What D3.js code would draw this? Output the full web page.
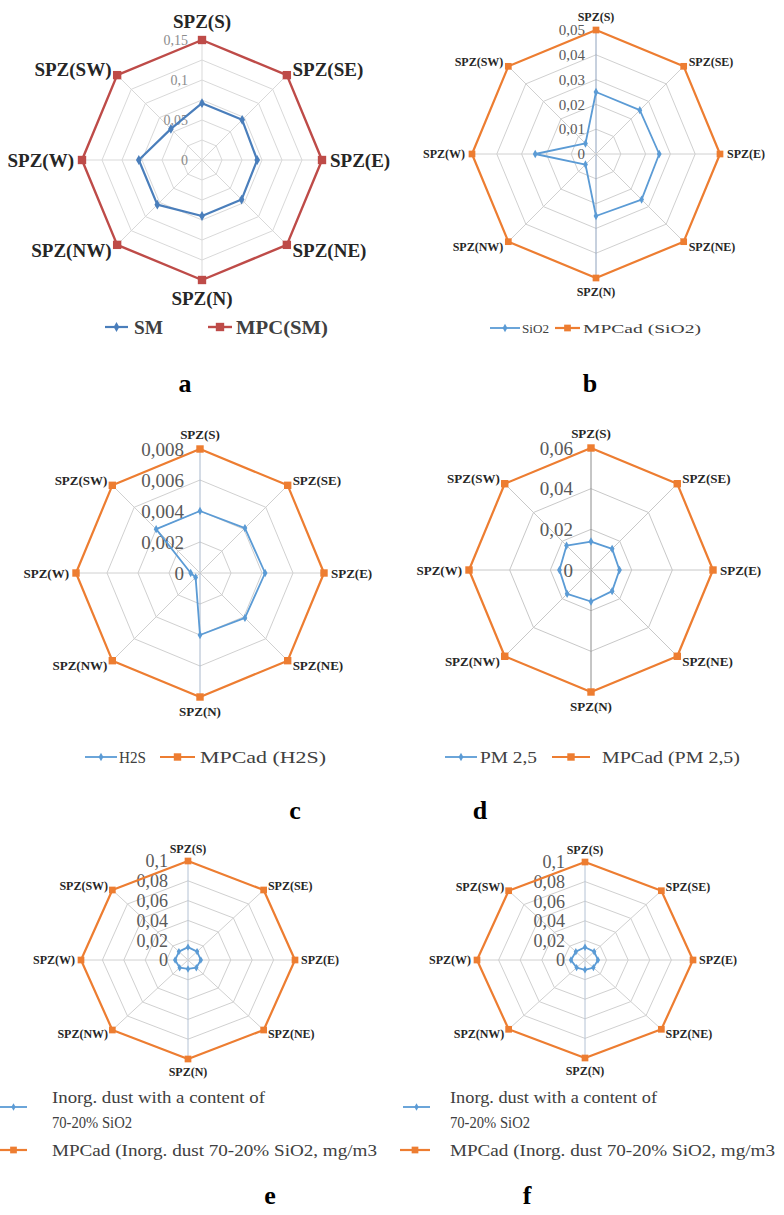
<!DOCTYPE html>
<html>
<head>
<meta charset="utf-8">
<script src="https://cdn.jsdelivr.net/npm/d3@7"></script>
<style>
body { margin: 0; background: #fff; }
text { font-family: "Liberation Serif", "Times New Roman", Tinos, serif; }
</style>
</head>
<body>
<svg id="chart" width="784" height="1215"></svg>
<script>
// sampling zones, clockwise from the top
var categories = ["SPZ(S)", "SPZ(SE)", "SPZ(E)", "SPZ(NE)", "SPZ(N)", "SPZ(NW)", "SPZ(W)", "SPZ(SW)"]

// a - SM
var smValues   = [0.071, 0.071, 0.069, 0.070, 0.070, 0.079, 0.079, 0.055]
var mpcSm      = [0.15, 0.15, 0.15, 0.15, 0.15, 0.15, 0.15, 0.15]
var ticksA     = [0, 0.05, 0.1, 0.15]

// b - SiO2
var sio2Values = [0.025, 0.025, 0.0255, 0.026, 0.025, 0.006, 0.0245, 0.006]
var mpcSio2    = [0.05, 0.05, 0.05, 0.05, 0.05, 0.05, 0.05, 0.05]
var ticksB     = [0, 0.01, 0.02, 0.03, 0.04, 0.05]

// c - H2S
var h2sValues  = [0.004, 0.0041, 0.0042, 0.0041, 0.004, 0.0004, 0.0006, 0.004]
var mpcH2s     = [0.008, 0.008, 0.008, 0.008, 0.008, 0.008, 0.008, 0.008]
var ticksC     = [0, 0.002, 0.004, 0.006, 0.008]

// d - PM 2,5
var pmValues   = [0.014, 0.0147, 0.014, 0.0147, 0.0155, 0.0166, 0.0155, 0.017]
var mpcPm      = [0.06, 0.06, 0.06, 0.06, 0.06, 0.06, 0.06, 0.06]
var ticksD     = [0, 0.02, 0.04, 0.06]

// e, f - inorganic dust 70-20% SiO2
var dustE      = [0.013, 0.012, 0.012, 0.011, 0.009, 0.011, 0.012, 0.012]
var dustF      = [0.013, 0.012, 0.012, 0.011, 0.010, 0.011, 0.013, 0.012]
var mpcDust    = [0.1, 0.1, 0.1, 0.1, 0.1, 0.1, 0.1, 0.1]
var ticksEF    = [0, 0.02, 0.04, 0.06, 0.08, 0.1]

var BLUE = "#5b9bd5", ORANGE = "#ed7d31"

var fmt = d3.formatLocale({decimal: ",", thousands: " ", grouping: [3], currency: ["", ""]}).format(".3~f")

var panels = [
	{letter: "a", lx: 185, ly: 383, cx: 202, cy: 160, rx: 120, ry: 120, max: 0.15, step: 0.025, ticks: ticksA,
		tickSize: 14, tickColor: "#8c8c8c", tickDx: 14, labelSize: 19, labelPad: 8, grid: "#d9d9d9", vaxis: "#d9d9d9",
		series: [
			{name: "SM", values: smValues, color: "#4a7ebb", width: 2.2, sym: d3.symbolDiamond, size: 28},
			{name: "MPC(SM)", values: mpcSm, color: "#be4b48", width: 2.4, sym: d3.symbolSquare, size: 70}
		],
		legend: {size: 19, bold: true, items: [
			{x1: 105, x2: 128, y: 327, lines: ["SM"], tx: 134, tl: [29]},
			{x1: 208, x2: 232, y: 327, lines: ["MPC(SM)"], tx: 236, tl: [92]}
		]}},
	{letter: "b", lx: 590, ly: 383, cx: 596, cy: 154, rx: 124, ry: 124, max: 0.05, step: 0.01, ticks: ticksB,
		tickSize: 15, tickColor: "#595959", tickDx: 11, labelSize: 12, labelPad: 7, grid: "#d0d0d0", vaxis: "#8fa2bd",
		series: [
			{name: "SiO2", values: sio2Values, color: BLUE, width: 1.8, sym: d3.symbolDiamond, size: 20},
			{name: "MPCad (SiO2)", values: mpcSio2, color: ORANGE, width: 2.2, sym: d3.symbolSquare, size: 45}
		],
		legend: {size: 13, items: [
			{x1: 490, x2: 520, y: 328, lines: ["SiO2"], tx: 522, tl: [27]},
			{x1: 555, x2: 580, y: 328, lines: ["MPCad (SiO2)"], tx: 583, tl: [118]}
		]}},
	{letter: "c", lx: 295, ly: 810, cx: 200, cy: 573, rx: 124, ry: 124, max: 0.008, step: 0.002, ticks: ticksC,
		tickSize: 19, tickColor: "#595959", tickDx: 16, labelSize: 13, labelPad: 7, grid: "#d0d0d0", vaxis: "#a9b8cc",
		series: [
			{name: "H2S", values: h2sValues, color: BLUE, width: 1.8, sym: d3.symbolDiamond, size: 20},
			{name: "MPCad (H2S)", values: mpcH2s, color: ORANGE, width: 2.2, sym: d3.symbolSquare, size: 55}
		],
		legend: {size: 16, items: [
			{x1: 85, x2: 117, y: 757, lines: ["H2S"], tx: 119, tl: [27]},
			{x1: 160, x2: 195, y: 757, lines: ["MPCad (H2S)"], tx: 200, tl: [126]}
		]}},
	{letter: "d", lx: 480, ly: 810, cx: 591, cy: 570, rx: 122, ry: 122, max: 0.06, step: 0.02, ticks: ticksD,
		tickSize: 19, tickColor: "#595959", tickDx: 18, labelSize: 13, labelPad: 7, grid: "#c8c8c8", vaxis: "#8c8c8c",
		series: [
			{name: "PM 2,5", values: pmValues, color: BLUE, width: 1.8, sym: d3.symbolDiamond, size: 20},
			{name: "MPCad (PM 2,5)", values: mpcPm, color: ORANGE, width: 2.2, sym: d3.symbolSquare, size: 55}
		],
		legend: {size: 16, items: [
			{x1: 445, x2: 477, y: 757, lines: ["PM 2,5"], tx: 480, tl: [57]},
			{x1: 552, x2: 590, y: 757, lines: ["MPCad (PM 2,5)"], tx: 602, tl: [138]}
		]}},
	{letter: "e", lx: 270, ly: 1195, cx: 188, cy: 960, rx: 107, ry: 99, max: 0.1, step: 0.02, ticks: ticksEF,
		tickSize: 18, tickColor: "#595959", tickDx: 20, labelSize: 12, labelPad: 6, grid: "#d0d0d0", vaxis: "#b4c2d4",
		series: [
			{name: "dust", values: dustE, color: BLUE, width: 1.8, sym: d3.symbolDiamond, size: 16},
			{name: "mpc", values: mpcDust, color: ORANGE, width: 2.2, sym: d3.symbolSquare, size: 45}
		],
		legend: {size: 16, items: [
			{x1: 0, x2: 27, y: 1107, lines: ["Inorg. dust with a content of", "70-20% SiO2"], tx: 52, ty: 1097, tl: [213, 80]},
			{x1: 0, x2: 27, y: 1150, lines: ["MPCad (Inorg. dust 70-20% SiO2, mg/m3"], tx: 52, tl: [325]}
		]}},
	{letter: "f", lx: 527, ly: 1195, cx: 585, cy: 960, rx: 108, ry: 98, max: 0.1, step: 0.02, ticks: ticksEF,
		tickSize: 18, tickColor: "#595959", tickDx: 20, labelSize: 12, labelPad: 6, grid: "#d0d0d0", vaxis: "#b4c2d4",
		series: [
			{name: "dust", values: dustF, color: BLUE, width: 1.8, sym: d3.symbolDiamond, size: 16},
			{name: "mpc", values: mpcDust, color: ORANGE, width: 2.2, sym: d3.symbolSquare, size: 45}
		],
		legend: {size: 16, items: [
			{x1: 403, x2: 430, y: 1107, lines: ["Inorg. dust with a content of", "70-20% SiO2"], tx: 450, ty: 1097, tl: [207, 80]},
			{x1: 400, x2: 430, y: 1150, lines: ["MPCad (Inorg. dust 70-20% SiO2, mg/m3"], tx: 450, tl: [325]}
		]}}
]

var svg = d3.select("#chart")

panels.forEach(function(p){ drawRadar(svg.append("g").attr("class", "panel-" + p.letter), p) })

function drawRadar(g, p){
	var n = categories.length
	var rX = d3.scaleLinear().domain([0, p.max]).range([0, p.rx])
	var rY = d3.scaleLinear().domain([0, p.max]).range([0, p.ry])
	var angle = d3.scaleLinear().domain([0, n]).range([0, 2 * Math.PI])

	function pt(i, v){
		var a = angle(i)
		return [p.cx + rX(v) * Math.sin(a), p.cy - rY(v) * Math.cos(a)]
	}
	var ring = d3.line().curve(d3.curveLinearClosed)

	// grid rings
	var rings = d3.range(p.step, p.max + p.step / 2, p.step)
	g.selectAll(".ring").data(rings).join("path")
		.attr("class", "ring")
		.attr("d", r => ring(categories.map((c, i) => pt(i, r))))
		.attr("fill", "none").attr("stroke", p.grid).attr("stroke-width", 1)

	// spokes
	g.selectAll(".spoke").data(categories).join("line")
		.attr("class", "spoke")
		.attr("x1", p.cx).attr("y1", p.cy)
		.attr("x2", (c, i) => pt(i, p.max)[0]).attr("y2", (c, i) => pt(i, p.max)[1])
		.attr("stroke", (c, i) => (i % 4 == 0) ? p.vaxis : p.grid).attr("stroke-width", 1)

	// value labels
	g.selectAll(".tick").data(p.ticks).join("text")
		.attr("class", "tick")
		.attr("x", p.cx - p.tickDx).attr("y", t => p.cy - rY(t))
		.attr("dy", "0.35em").attr("text-anchor", "end")
		.attr("font-size", p.tickSize).attr("fill", p.tickColor)
		.text(fmt)

	// category labels
	g.selectAll(".cat").data(categories).join("text")
		.attr("class", "cat")
		.each(function(c, i){
			var a = angle(i), s = Math.sin(a), co = Math.cos(a)
			var o = pt(i, p.max)
			var x = o[0] + s * p.labelPad, y = o[1] - co * p.labelPad
			var anchor = "middle"
			if (s > 0.1) anchor = "start"
			if (s < -0.1) anchor = "end"
			if (Math.abs(s) < 0.1) y += (co > 0 ? -1 : 1) * p.labelSize * 0.55
			d3.select(this).attr("x", x).attr("y", y).attr("dy", "0.35em")
				.attr("text-anchor", anchor)
		})
		.attr("font-size", p.labelSize).attr("font-weight", "bold").attr("fill", "#262626")
		.text(c => c)

	// series
	p.series.slice().reverse().forEach(function(s){
		var pts = s.values.map((v, i) => pt(i, v))
		g.append("path").attr("d", ring(pts))
			.attr("fill", "none").attr("stroke", s.color).attr("stroke-width", s.width)
			.attr("stroke-linejoin", "round")
		g.selectAll(null).data(pts).join("path")
			.attr("transform", d => "translate(" + d[0] + "," + d[1] + ")")
			.attr("d", d3.symbol(s.sym, s.size))
			.attr("fill", s.color)
	})

	// legend
	var lg = p.legend
	lg.items.forEach(function(it, k){
		var s = p.series[k]
		g.append("line").attr("x1", it.x1).attr("x2", it.x2).attr("y1", it.y).attr("y2", it.y)
			.attr("stroke", s.color).attr("stroke-width", s.width)
		g.append("path").attr("transform", "translate(" + ((it.x1 + it.x2) / 2) + "," + it.y + ")")
			.attr("d", d3.symbol(s.sym, s.size)).attr("fill", s.color)
		var ty = it.ty || it.y
		it.lines.forEach(function(line, j){
			g.append("text").attr("x", it.tx).attr("y", ty + j * 25).attr("dy", "0.35em")
				.attr("font-size", lg.size).attr("font-weight", lg.bold ? "bold" : "normal")
				.attr("fill", "#404040")
				.attr("textLength", it.tl[j]).attr("lengthAdjust", "spacingAndGlyphs")
				.text(line)
		})
	})

	// panel letter
	g.append("text").attr("x", p.lx).attr("y", p.ly).attr("dy", "0.35em")
		.attr("text-anchor", "middle").attr("font-size", 26).attr("font-weight", "bold")
		.attr("fill", "#000").text(p.letter)
}
</script>
</body>
</html>
